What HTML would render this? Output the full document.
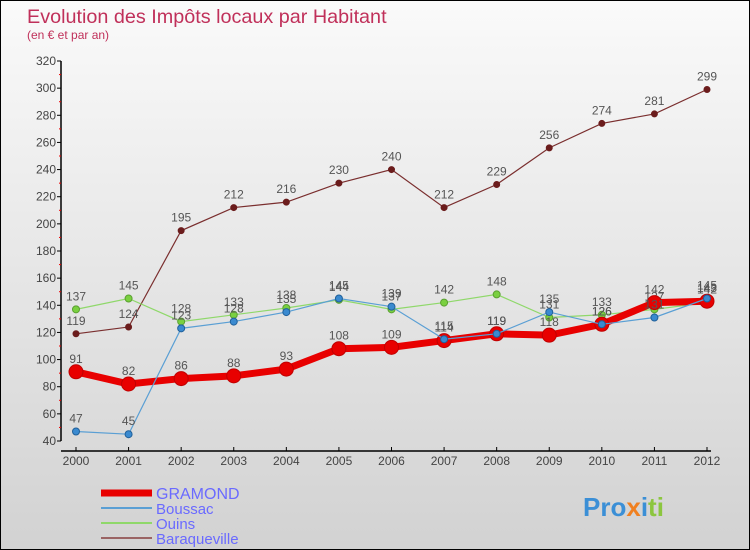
<!DOCTYPE html>
<html><head><meta charset="utf-8"><style>
body{margin:0;}
#wrap{position:relative;width:748px;height:548px;border:1px solid #000;background:linear-gradient(#fafafa,#d2d2d2);font-family:"Liberation Sans",sans-serif;overflow:hidden}
</style></head><body>
<div id="wrap">
<svg id="svg" width="748" height="548">
<text x="26" y="22" font-size="19.8" fill="#c0305a">Evolution des Impôts locaux par Habitant</text>
<text x="26" y="38" font-size="12" fill="#c0305a">(en € et par an)</text>
<g id="axes"></g><g id="series"></g><g id="legend"></g>
<text x="582" y="515" font-size="26" font-weight="bold" fill="#3b8fd6">Pro<tspan fill="#f08020">x</tspan><tspan fill="#3b8fd6">i</tspan><tspan fill="#8cc63f">ti</tspan></text>
</svg>
</div>
<script>
const years=[2000,2001,2002,2003,2004,2005,2006,2007,2008,2009,2010,2011,2012];
const yTicks=[40,60,80,100,120,140,160,180,200,220,240,260,280,300,320];
const gramond=[91,82,86,88,93,108,109,114,119,118,126,142,143];
const boussac=[47,45,123,128,135,145,139,115,119,135,126,131,145];
const ouins=[137,145,128,133,138,144,137,142,148,131,133,137,142];
const baraqueville=[119,124,195,212,216,230,240,212,229,256,274,281,299];
const NS='http://www.w3.org/2000/svg';
function X(i){return 75+i*(706-75)/(years.length-1);}
function Y(v){return 440-(v-40)*(380/280);}
function mk(tag,attrs,parent){const e=document.createElementNS(NS,tag);for(const k in attrs)e.setAttribute(k,attrs[k]);parent.appendChild(e);return e;}
const ax=document.getElementById('axes');
let l=mk('line',{x1:60,y1:60,x2:60,y2:440,stroke:'#000','stroke-width':1.5},ax);


l=mk('line',{x1:60,y1:450,x2:710,y2:450,stroke:'#000','stroke-width':1.5},ax);


yTicks.forEach(v=>{
 mk('line',{x1:56,y1:Y(v),x2:60,y2:Y(v),stroke:'#000'},ax);
 if(v<320) mk('line',{x1:58,y1:Y(v+10),x2:60,y2:Y(v+10),stroke:'#e00'},ax);
 const t=mk('text',{x:55,y:Y(v)+4,'font-size':12,'text-anchor':'end',fill:'#444'},ax);
 t.textContent=v;
 
 
});
years.forEach((yr,i)=>{
 mk('line',{x1:X(i),y1:446,x2:X(i),y2:450,stroke:'#000'},ax);
 const t=mk('text',{x:X(i),y:464,'font-size':12,'text-anchor':'middle',fill:'#444'},ax);
 t.textContent=yr;
 
 
});
const sg=document.getElementById('series');
function draw(data,name,color,w,r,dot,stroke){
 const g=mk('g',{},sg);
 
 
 const p=mk('polyline',{points:data.map((v,i)=>X(i)+','+Y(v)).join(' '),fill:'none',stroke:color,'stroke-width':w},g);
 
 
 data.forEach((v,i)=>{
  const c=mk('circle',{cx:X(i),cy:Y(v),r:r,fill:dot,stroke:stroke,'stroke-width':1},g);
  
  
  const t=mk('text',{x:X(i),y:Y(v)-9,'font-size':12,'text-anchor':'middle',fill:'#555'},g);
  t.textContent=v;
  
  
 });
}
draw(baraqueville,'baraqueville','#7a2e2e',1.2,3,'#6b1c1c','#6b1c1c');
draw(ouins,'ouins','#8fd86a',1.2,3.5,'#7ad040','#5aa030');
draw(gramond,'gramond','#e80000',7,7,'#e80000','#c00000');
draw(boussac,'boussac','#5a9fd4',1.2,3.5,'#3a8ad0','#20609a');
const lg=document.getElementById('legend');
[['GRAMOND','#e80000',7,'gramond'],['Boussac','#5a9fd4',2,'boussac'],['Ouins','#8fd86a',2,'ouins'],['Baraqueville','#9a6464',2,'baraqueville']].forEach((d,i)=>{
 const y=492+i*15;
 const ln=mk('line',{x1:100,y1:y,x2:151,y2:y,stroke:d[1],'stroke-width':d[2]},lg);
 
 
 const t=mk('text',{x:155,y:y+6,'font-size':i==0?16:15,fill:'#6a6aff'},lg);
 t.textContent=d[0];
 
 
});
</script>
</body></html>
